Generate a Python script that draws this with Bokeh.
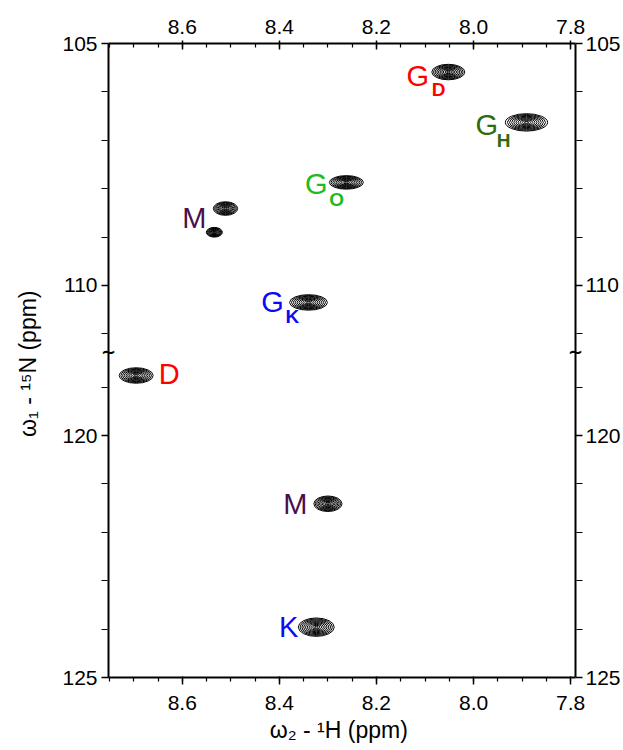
import numpy as np
from bokeh.plotting import figure
from bokeh.models import Range1d, LinearAxis, FixedTicker, Label, ColumnDataSource, PrintfTickFormatter
from bokeh.core.properties import value
from bokeh.embed import file_html
from bokeh.resources import INLINE

# ---------------- data ----------------
# cross peaks: 1H shift (ppm), 15N shift (ppm), line widths
peak_h = [8.052, 7.891, 8.262, 8.511, 8.534, 8.340, 8.695, 8.300, 8.324]
peak_n = [105.59, 106.63, 107.87, 108.41, 108.90, 110.35, 118.76, 121.41, 123.96]
width_h = [0.068, 0.087, 0.070, 0.050, 0.033, 0.078, 0.070, 0.058, 0.074]
width_n = [0.32, 0.36, 0.28, 0.28, 0.20, 0.32, 0.32, 0.32, 0.38]

# assignment labels
label_main = ["G", "G", "G", "M", "G", "D", "M", "K"]
label_sub = ["D", "H", "O", "", "K", "", "", ""]
label_color = ["#FF0000", "#2E6B0C", "#1DBB1D", "#4B0F4B", "#0A0AF5", "#FF0000", "#4B0F4B", "#0A0AF5"]
label_h = [8.115, 7.973, 8.324, 8.575, 8.414, 8.627, 8.367, 8.381]
label_n = [105.67, 106.69, 107.91, 108.61, 110.35, 118.72, 121.41, 123.96]
sub_h = [8.072, 7.938, 8.282, None, 8.373, None, None, None]
sub_n = [105.96, 107.00, 108.22, None, 110.64, None, None, None]

# axes
x_major = [8.6, 8.4, 8.2, 8.0, 7.8]
y_major = [105, 110, 120, 125]
y_minor = [106, 107, 108, 109, 111, 119, 121, 122, 123, 124]
X_START, X_END = 8.752, 7.79
N_TOP, N_BOTTOM = 105, 125
BREAK_LOW, BREAK_HIGH = 111.37, 118.27   # 15N axis is broken between these


def n_axis(n):
    """broken 15N axis -> continuous plotting coordinate"""
    n = np.asarray(n, dtype=float)
    gap = BREAK_HIGH - BREAK_LOW
    return np.round(np.where(n <= BREAK_LOW, n - N_TOP, n - N_TOP - gap), 4)


FONT = "Liberation Sans"
BOX_W, FRAME_H = 467, 634
PAD = 7                                     # side padding so break marks are not clipped
ppm_per_px = (X_START - X_END) / BOX_W
y_top, y_bot = float(n_axis(N_TOP)), float(n_axis(N_BOTTOM))

p = figure(frame_width=BOX_W + 2 * PAD, frame_height=FRAME_H,
           x_range=Range1d(X_START + PAD * ppm_per_px, X_END - PAD * ppm_per_px),
           y_range=Range1d(y_bot, y_top),
           output_backend="svg", toolbar_location=None,
           min_border_left=108 - PAD, min_border_top=43, min_border_right=44 - PAD,
           min_border_bottom=73, x_axis_location="below", y_axis_location="left")
p.grid.visible = False
p.outline_line_color = None
p.background_fill_color = "white"
p.border_fill_color = "white"

# vertical borders of the spectrum box
p.segment(x0=[X_START, X_END], y0=[y_top, y_top], x1=[X_START, X_END], y1=[y_bot, y_bot],
          line_color="black", line_width=2)

# ---------------- contours ----------------
levels = [1.0, 0.9, 0.8, 0.7, 0.6, 0.5, 0.4, 0.3, 0.2, 0.1]
cx, cy, cw, ch = [], [], [], []
for h, n, wh, wn in zip(peak_h, peak_n, width_h, width_n):
    base = float(n_axis(n))
    for lv in levels:
        cx.append(h)
        cy.append(base)
        cw.append(wh * lv)
        ch.append(wn * lv)
contours = ColumnDataSource(dict(x=cx, y=cy, w=cw, h=ch))
p.ellipse(x="x", y="y", width="w", height="h", source=contours,
          fill_color=None, line_color="black", line_width=1.0)

# ---------------- labels ----------------
main_src = ColumnDataSource(dict(x=label_h, y=n_axis(label_n), t=label_main, c=label_color))
p.text(x="x", y="y", text="t", text_color="c", source=main_src,
       text_font=value(FONT), text_font_size="29px",
       text_align="center", text_baseline="middle")

sub_idx = [i for i, s in enumerate(label_sub) if s]
sub_src = ColumnDataSource(dict(x=[sub_h[i] for i in sub_idx],
                                y=n_axis([sub_n[i] for i in sub_idx]),
                                t=[label_sub[i] for i in sub_idx],
                                c=[label_color[i] for i in sub_idx]))
p.text(x="x", y="y", text="t", text_color="c", source=sub_src,
       text_font=value(FONT), text_font_size="19px", text_font_style="bold",
       text_align="center", text_baseline="middle")

# ---------------- axes ----------------
x_minor = list(np.round(np.arange(7.8, 8.7501, 0.05), 2))
xticker = FixedTicker(ticks=x_major, minor_ticks=x_minor)
y_pos = [float(v) for v in n_axis(y_major)]
yticker = FixedTicker(ticks=y_pos, minor_ticks=[float(v) for v in n_axis(y_minor)])
y_over = {pos: str(lab) for pos, lab in zip(y_pos, y_major)}


def style(ax):
    ax.axis_line_width = 2
    ax.axis_line_color = "black"
    ax.major_tick_line_width = 1.5
    ax.minor_tick_line_width = 1.2
    ax.major_label_text_font = FONT
    ax.major_label_text_font_size = "21px"
    ax.major_label_text_color = "black"
    ax.axis_label_text_font = FONT
    ax.axis_label_text_font_size = "23px"
    ax.axis_label_text_font_style = "normal"
    ax.axis_label_text_color = "black"


xb = p.xaxis[0]
xb.ticker = xticker
xb.formatter = PrintfTickFormatter(format="%.1f")
xb.bounds = (X_END, X_START)
style(xb)
xb.major_tick_in, xb.major_tick_out = 1, 7
xb.minor_tick_in, xb.minor_tick_out = 0, 4
xb.major_label_standoff = 11
xb.axis_label = "ω₂ - ¹H  (ppm)"
xb.axis_label_standoff = 4

xt = LinearAxis(ticker=xticker, formatter=PrintfTickFormatter(format="%.1f"),
                bounds=(X_END, X_START))
style(xt)
xt.major_tick_in, xt.major_tick_out = 6, 3
xt.minor_tick_in, xt.minor_tick_out = 4, 0
xt.major_label_standoff = 7
p.add_layout(xt, "above")

# y axes sit PAD px outside the box: their inward ticks reach the box border
yl = p.yaxis[0]
yl.ticker = yticker
yl.major_label_overrides = y_over
style(yl)
yl.axis_line_color = None
yl.major_tick_in, yl.major_tick_out = PAD, 0
yl.minor_tick_in, yl.minor_tick_out = PAD - 1, 0
yl.major_label_standoff = 4
yl.axis_label = "ω₁ - ¹⁵N  (ppm)"
yl.axis_label_standoff = 18

yr = LinearAxis(ticker=yticker, major_label_overrides=y_over)
style(yr)
yr.axis_line_color = None
yr.major_tick_in, yr.major_tick_out = PAD, 0
yr.minor_tick_in, yr.minor_tick_out = PAD - 1, 0
yr.major_label_standoff = 3
p.add_layout(yr, "right")

# axis-break marks
brk_y = float(n_axis(BREAK_LOW))
for xb_pos in (X_START, X_END):
    p.add_layout(Label(x=xb_pos, y=brk_y, text="∼", text_align="center",
                       text_baseline="middle", text_font="DejaVu Sans",
                       text_font_size="18px", text_font_style="bold",
                       text_color="black", level="overlay"))

open("out.html", "w").write(file_html(p, INLINE))
